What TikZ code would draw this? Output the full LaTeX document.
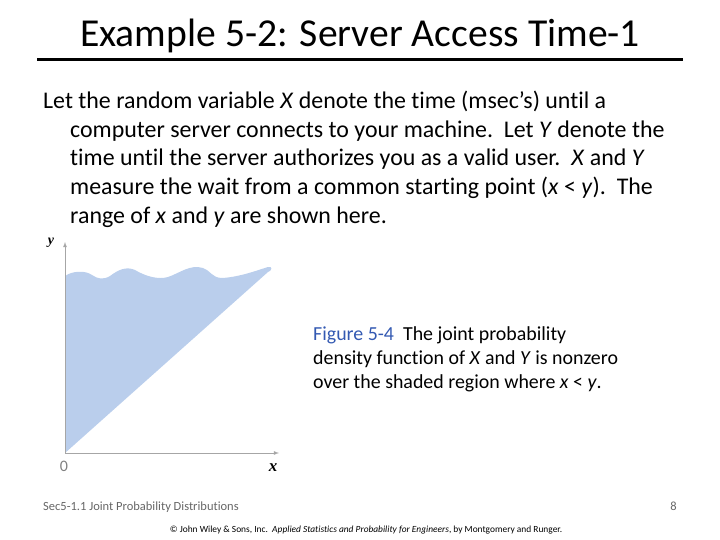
\documentclass[tikz,border=0pt]{standalone}
\usepackage{fontspec}
\setmainfont[Ligatures={NoCommon}]{Carlito}
\newfontfamily\serifit{Liberation Serif}
\begin{document}
\begin{tikzpicture}[x=1pt,y=-1pt,
  body/.style={anchor=base west,inner sep=0,font=\fontsize{23.9}{28}\selectfont},
  captext/.style={anchor=base west,inner sep=0,font=\fontsize{19.9}{24}\selectfont},
  axis/.style={draw=gray!70,line width=0.8pt,-latex}]
\useasboundingbox (0,0) rectangle (720,540);
\node (title) at (360,36) [inner sep=0,font=\fontsize{39.6}{44}\selectfont] {Example 5-2: Server Access Time-1};
\coordinate (l1) at (37,60); \coordinate (l2) at (683,60);
\draw[line width=3pt] (l1) -- (l2);
\node[body] (t1) at (43,109) {Let the random variable \textit{X} denote the time (msec’s) until a};
\node[body] (t2) at (70,138) {computer server connects to your machine.\ \ Let \textit{Y} denote the};
\node[body] (t3) at (70,166) {time until the server authorizes you as a valid user.\ \ \textit{X} and \textit{Y}};
\node[body] (t4) at (70,195) {measure the wait from a common starting point (\textit{x} < \textit{y}).\ \ The};
\node[body] (t5) at (70,224) {range of \textit{x} and \textit{y} are shown here.};
% region
\fill[fill={rgb,255:red,186;green,206;blue,236}]
 (65,453) -- (65,276) .. controls (72,271) and (85,270) .. (92,275)
 .. controls (98,279) and (103,280) .. (110,276)
 .. controls (118,270) and (126,266) .. (135,270)
 .. controls (145,276) and (158,280) .. (168,277)
 .. controls (180,273) and (190,264) .. (203,268)
 .. controls (210,270) and (212,278) .. (222,278)
 .. controls (240,277) and (258,270) .. (268,267)
 .. controls (273,266) and (272,271) .. (268,272) -- cycle;
\coordinate (o) at (65,453);
\coordinate (ye) at (65,242);
\coordinate (xe) at (279,453);
\draw[axis] (o) -- (ye);
\draw[axis] (o) -- (xe);
\node (ylab) at (51,243) [inner sep=0,font=\fontsize{14}{15}\selectfont\serifit\bfseries\itshape] {y};
\node (xlab) at (273,468) [inner sep=0,font=\fontsize{17}{18}\selectfont\serifit\bfseries\itshape] {x};
\node (olab) at (64,466) [inner sep=0,text=gray,font=\fontsize{16}{17}\selectfont] {0};
% caption
\node[captext] (c1) at (313,340) {\textcolor[rgb]{0.2,0.35,0.7}{Figure 5-4}\ \ The joint probability};
\node[captext] (c2) at (313,364) {density function of \textit{X} and \textit{Y} is nonzero};
\node[captext] (c3) at (313,388) {over the shaded region where \textit{x} < \textit{y}.};
% footer
\node (f1) at (43,510) [anchor=base west,inner sep=0,text=gray!80!black,font=\fontsize{12.5}{14}\selectfont] {Sec5-1.1 Joint Probability Distributions};
\node (f2) at (677,510) [anchor=base east,inner sep=0,text=gray!80!black,font=\fontsize{12.5}{14}\selectfont] {8};
\node (f3) at (366,530) [inner sep=0,font=\fontsize{9.4}{10}\selectfont] {© John Wiley \& Sons, Inc.\ \ \textit{Applied Statistics and Probability for Engineers}, by Montgomery and Runger.};
\end{tikzpicture}
\end{document}
